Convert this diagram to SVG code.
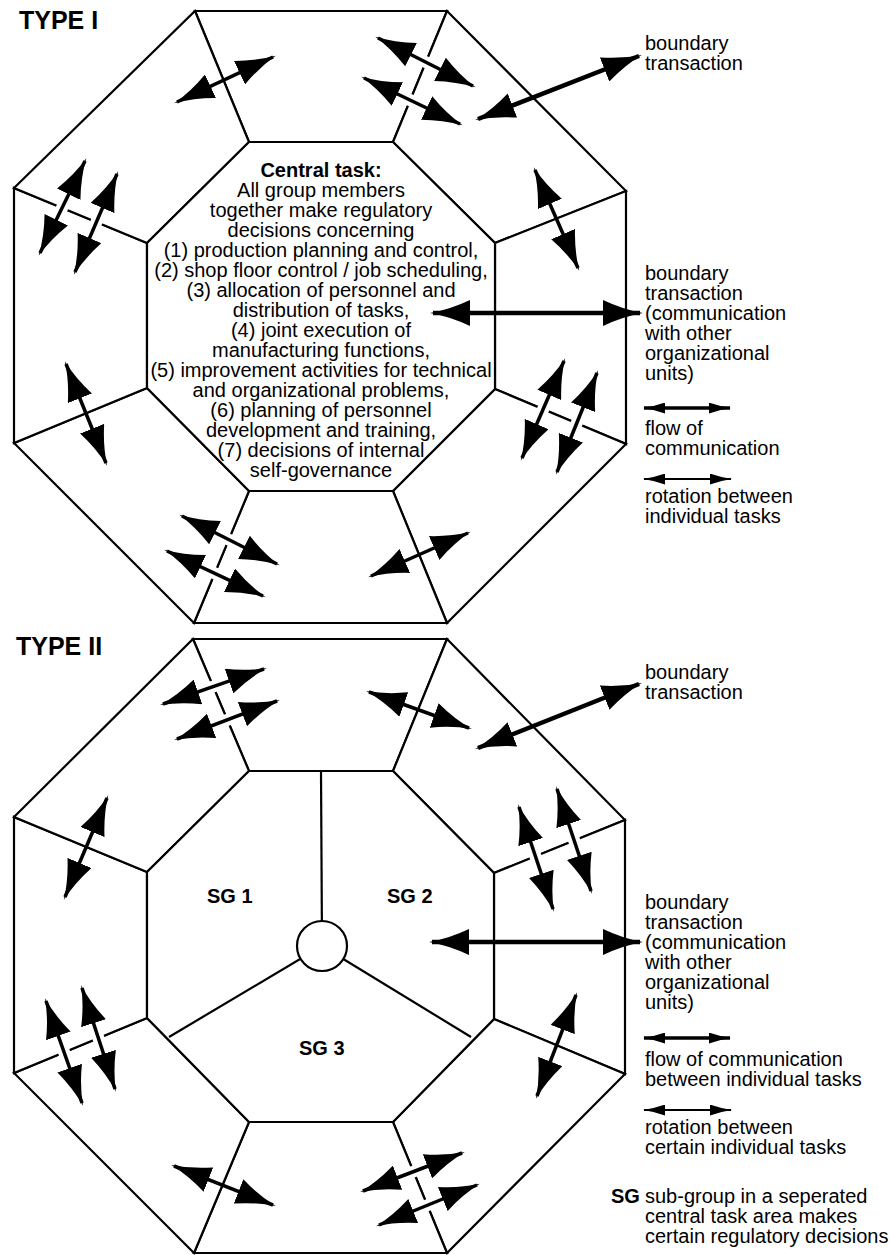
<svg xmlns="http://www.w3.org/2000/svg" width="890" height="1255" viewBox="0 0 890 1255">
<defs>
<style>
.seg{fill:#fff;stroke:#000;stroke-width:2.2;stroke-linejoin:miter}
.core{fill:#fff;stroke:#000;stroke-width:2.2}
.ln{stroke:#000;stroke-width:2.2;fill:none}
.t{font-family:"Liberation Sans",Arial,Helvetica,sans-serif;font-size:20px;fill:#000}
.c{text-anchor:middle}
.b{font-weight:bold}
.title{font-family:"Liberation Sans",Arial,Helvetica,sans-serif;font-size:25px;font-weight:bold;fill:#000}
.ar{stroke:#000;stroke-width:3.5;fill:none;marker-start:url(#h);marker-end:url(#h)}
.bd{stroke:#000;stroke-width:4.5;fill:none;marker-start:url(#h);marker-end:url(#h)}
.halo{stroke:#fff;stroke-width:12;fill:none}
.lg1{stroke:#000;stroke-width:3.5;fill:none;marker-start:url(#s);marker-end:url(#s)}
.lg2{stroke:#000;stroke-width:1.8;fill:none;marker-start:url(#s);marker-end:url(#s)}
</style>
<marker id="h" viewBox="0 0 40 26" refX="37" refY="13" markerWidth="40" markerHeight="26" markerUnits="userSpaceOnUse" orient="auto-start-reverse">
<path d="M40,13 Q20,9.5 0,0 L0,26 Q20,16.5 40,13 Z" fill="#000"/>
</marker>
<marker id="s" viewBox="0 0 22 11" refX="21" refY="5.5" markerWidth="22" markerHeight="11" markerUnits="userSpaceOnUse" orient="auto-start-reverse">
<path d="M22,5.5 Q11,4 0,0 L0,11 Q11,7 22,5.5 Z" fill="#000"/>
</marker>
</defs>
<rect width="890" height="1255" fill="#fff"/>

<!-- TYPE I -->
<text class="title" x="19" y="29">TYPE I</text>
<g id="t1-seg-top"><polygon class="seg" points="195,11 447,11 393,142 249,142"/></g>
<g id="t1-seg-ne"><polygon class="seg" points="447,11 626,191 495,243 393,142"/></g>
<g id="t1-seg-e"><polygon class="seg" points="626,191 626,444 495,389 495,243"/></g>
<g id="t1-seg-se"><polygon class="seg" points="626,444 447,623 393,491 495,389"/></g>
<g id="t1-seg-bottom"><polygon class="seg" points="447,623 194,623 249,491 393,491"/></g>
<g id="t1-seg-sw"><polygon class="seg" points="194,623 14,443 147,388 249,491"/></g>
<g id="t1-seg-w"><polygon class="seg" points="14,443 14,188 147,243 147,388"/></g>
<g id="t1-seg-nw"><polygon class="seg" points="14,188 195,11 249,142 147,243"/></g>
<g id="t1-central">
<polygon class="core" points="249,142 393,142 495,243 495,389 393,491 249,491 147,388 147,243"/>
<text class="t c b" x="321" y="177">Central task:</text>
<text class="t c" x="321" y="197">All group members</text>
<text class="t c" x="321" y="217">together make regulatory</text>
<text class="t c" x="321" y="237">decisions concerning</text>
<text class="t c" x="321" y="257">(1) production planning and control,</text>
<text class="t c" x="321" y="277">(2) shop floor control / job scheduling,</text>
<text class="t c" x="321" y="297">(3) allocation of personnel and</text>
<text class="t c" x="321" y="317">distribution of tasks,</text>
<text class="t c" x="321" y="337">(4) joint execution of</text>
<text class="t c" x="321" y="357">manufacturing functions,</text>
<text class="t c" x="321" y="377">(5) improvement activities for technical</text>
<text class="t c" x="321" y="397">and organizational problems,</text>
<text class="t c" x="321" y="417">(6) planning of personnel</text>
<text class="t c" x="321" y="437">development and training,</text>
<text class="t c" x="321" y="457">(7) decisions of internal</text>
<text class="t c" x="321" y="477">self-governance</text>
</g>
<g id="t1-legend">
<text class="t" x="645" y="50">boundary</text>
<text class="t" x="645" y="70">transaction</text>
<text class="t" x="645" y="280">boundary</text>
<text class="t" x="645" y="300">transaction</text>
<text class="t" x="645" y="320">(communication</text>
<text class="t" x="645" y="340">with other</text>
<text class="t" x="645" y="360">organizational</text>
<text class="t" x="645" y="380">units)</text>
<line class="lg1" x1="644" y1="408" x2="730" y2="408"/>
<text class="t" x="645" y="435">flow of</text>
<text class="t" x="645" y="455">communication</text>
<line class="lg2" x1="644" y1="479" x2="731" y2="479"/>
<text class="t" x="645" y="503">rotation between</text>
<text class="t" x="645" y="523">individual tasks</text>
</g>

<!-- TYPE II -->
<text class="title" x="16" y="655">TYPE II</text>
<g id="t2-seg-top"><polygon class="seg" points="193,639 447,639 393,771 249,771"/></g>
<g id="t2-seg-ne"><polygon class="seg" points="447,639 625,820 494,873 393,771"/></g>
<g id="t2-seg-e"><polygon class="seg" points="625,820 625,1074 494,1019 494,873"/></g>
<g id="t2-seg-se"><polygon class="seg" points="625,1074 447,1253 393,1122 494,1019"/></g>
<g id="t2-seg-bottom"><polygon class="seg" points="447,1253 194,1253 249,1122 393,1122"/></g>
<g id="t2-seg-sw"><polygon class="seg" points="194,1253 14,1073 147,1018 249,1122"/></g>
<g id="t2-seg-w"><polygon class="seg" points="14,1073 14,817 147,872 147,1018"/></g>
<g id="t2-seg-nw"><polygon class="seg" points="14,817 193,639 249,771 147,872"/></g>
<g id="t2-central">
<polygon class="core" points="249,771 393,771 494,873 494,1019 393,1122 249,1122 147,1018 147,872"/>
<line class="ln" x1="321" y1="771" x2="322" y2="946"/>
<line class="ln" x1="322" y1="946" x2="169" y2="1037"/>
<line class="ln" x1="322" y1="946" x2="471" y2="1037"/>
<circle cx="322" cy="946" r="25" fill="#fff" stroke="#000" stroke-width="2.2"/>
</g>
<g id="sg1"><text class="t b" x="207" y="903">SG 1</text></g>
<g id="sg2"><text class="t b" x="387" y="903">SG 2</text></g>
<g id="sg3"><text class="t b" x="299" y="1055">SG 3</text></g>
<g id="t2-legend">
<text class="t" x="645" y="679">boundary</text>
<text class="t" x="645" y="699">transaction</text>
<text class="t" x="645" y="909">boundary</text>
<text class="t" x="645" y="929">transaction</text>
<text class="t" x="645" y="949">(communication</text>
<text class="t" x="645" y="969">with other</text>
<text class="t" x="645" y="989">organizational</text>
<text class="t" x="645" y="1009">units)</text>
<line class="lg1" x1="644" y1="1038" x2="730" y2="1038"/>
<text class="t" x="645" y="1066">flow of communication</text>
<text class="t" x="645" y="1086">between individual tasks</text>
<line class="lg2" x1="644" y1="1110" x2="731" y2="1110"/>
<text class="t" x="645" y="1134">rotation between</text>
<text class="t" x="645" y="1154">certain individual tasks</text>
<text class="t b" x="611" y="1203">SG</text>
<text class="t" x="645" y="1203">sub-group in a seperated</text>
<text class="t" x="645" y="1223">central task area makes</text>
<text class="t" x="645" y="1243">certain regulatory decisions</text>
</g>

<g id="connectors">
<!-- halos for paired arrows -->
<line class="halo" x1="378" y1="38" x2="473" y2="86"/>
<line class="halo" x1="364" y1="78" x2="460" y2="124"/>
<line class="halo" x1="564" y1="361" x2="522" y2="458"/>
<line class="halo" x1="597" y1="373" x2="557" y2="472"/>
<line class="halo" x1="182" y1="516" x2="277" y2="564"/>
<line class="halo" x1="167" y1="551" x2="263" y2="596"/>
<line class="halo" x1="85" y1="161" x2="40" y2="253"/>
<line class="halo" x1="117" y1="174" x2="75" y2="272"/>
<line class="halo" x1="163" y1="704" x2="264" y2="669"/>
<line class="halo" x1="177" y1="739" x2="277" y2="701"/>
<line class="halo" x1="519" y1="807" x2="553" y2="909"/>
<line class="halo" x1="557" y1="789" x2="591" y2="891"/>
<line class="halo" x1="363" y1="1191" x2="462" y2="1153"/>
<line class="halo" x1="379" y1="1225" x2="477" y2="1185"/>
<line class="halo" x1="46" y1="1001" x2="82" y2="1103"/>
<line class="halo" x1="82" y1="988" x2="115" y2="1089"/>
<!-- Type I arrows -->
<line class="ar" x1="177" y1="102" x2="273" y2="57"/>
<line class="ar" x1="378" y1="38" x2="473" y2="86"/>
<line class="ar" x1="364" y1="78" x2="460" y2="124"/>
<line class="bd" x1="478" y1="119" x2="639" y2="56"/>
<line class="ar" x1="535" y1="170" x2="578" y2="268"/>
<line class="bd" x1="433" y1="313" x2="640" y2="313"/>
<line class="ar" x1="564" y1="361" x2="522" y2="458"/>
<line class="ar" x1="597" y1="373" x2="557" y2="472"/>
<line class="ar" x1="371" y1="576" x2="468" y2="533"/>
<line class="ar" x1="182" y1="516" x2="277" y2="564"/>
<line class="ar" x1="167" y1="551" x2="263" y2="596"/>
<line class="ar" x1="66" y1="364" x2="106" y2="463"/>
<line class="ar" x1="85" y1="161" x2="40" y2="253"/>
<line class="ar" x1="117" y1="174" x2="75" y2="272"/>
<!-- Type II arrows -->
<line class="ar" x1="163" y1="704" x2="264" y2="669"/>
<line class="ar" x1="177" y1="739" x2="277" y2="701"/>
<line class="ar" x1="369" y1="692" x2="469" y2="728"/>
<line class="bd" x1="478" y1="748" x2="639" y2="684"/>
<line class="ar" x1="519" y1="807" x2="553" y2="909"/>
<line class="ar" x1="557" y1="789" x2="591" y2="891"/>
<line class="bd" x1="432" y1="942" x2="640" y2="942"/>
<line class="ar" x1="576" y1="995" x2="537" y2="1096"/>
<line class="ar" x1="363" y1="1191" x2="462" y2="1153"/>
<line class="ar" x1="379" y1="1225" x2="477" y2="1185"/>
<line class="ar" x1="174" y1="1166" x2="273" y2="1205"/>
<line class="ar" x1="46" y1="1001" x2="82" y2="1103"/>
<line class="ar" x1="82" y1="988" x2="115" y2="1089"/>
<line class="ar" x1="107" y1="798" x2="65" y2="897"/>
</g>
</svg>
